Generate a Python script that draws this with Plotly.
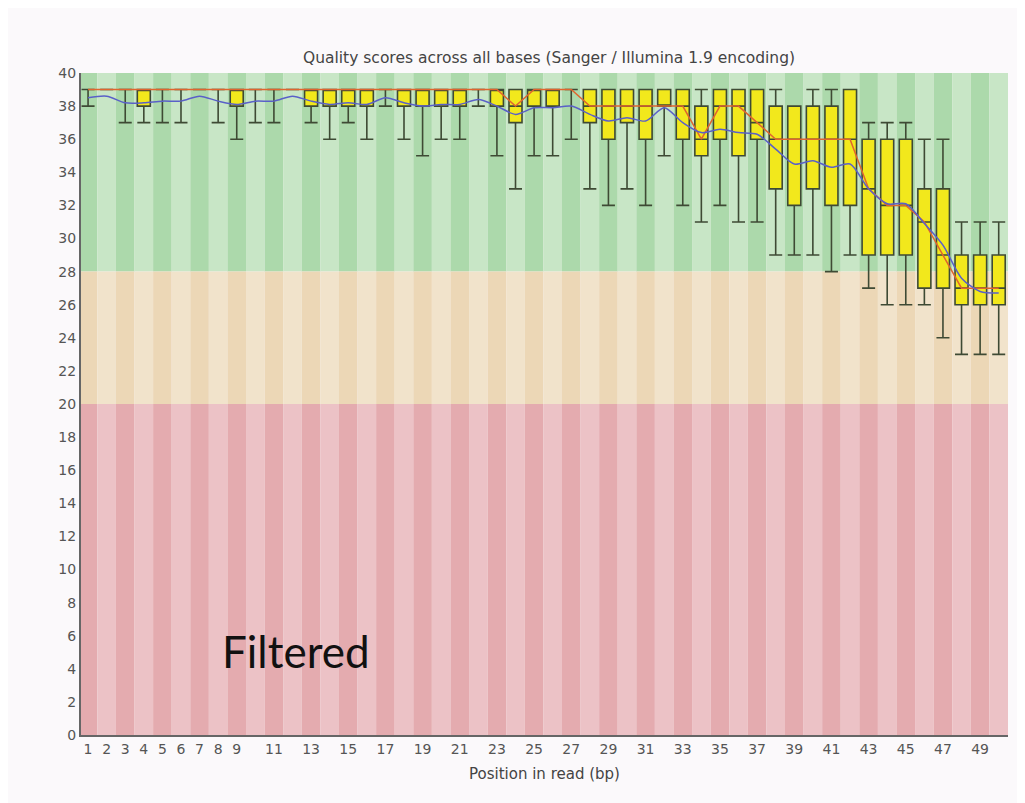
import plotly.graph_objects as go

positions = list(range(1, 51))
lower = [38, 39, 37, 37, 37, 37, 39, 37, 36, 37, 37, 39, 37, 36, 37, 36, 38, 36, 35, 36,
         36, 38, 35, 33, 35, 35, 36, 33, 32, 33, 32, 35, 32, 31, 32, 31, 31, 29, 29, 29,
         28, 29, 27, 26, 26, 26, 24, 23, 23, 23]
q1 = [39, 39, 39, 38, 39, 39, 39, 39, 38, 39, 39, 39, 38, 38, 38, 38, 39, 38, 38, 38,
      38, 39, 38, 37, 38, 38, 39, 37, 36, 37, 36, 38, 36, 35, 36, 35, 36, 33, 32, 33,
      32, 32, 29, 29, 29, 27, 27, 26, 26, 26]
median = [39, 39, 39, 39, 39, 39, 39, 39, 39, 39, 39, 39, 39, 39, 39, 39, 39, 39, 39, 39,
          39, 39, 39, 38, 39, 39, 39, 38, 38, 38, 38, 38, 38, 36, 38, 38, 37, 36, 36, 36,
          36, 36, 33, 32, 32, 31, 29, 27, 27, 27]
q3 = [39] * 33 + [38, 39, 39, 39, 38, 38, 38, 38, 39, 36, 36, 36, 33, 33, 29, 29, 29]
upper = [39] * 38 + [38, 39, 39, 39, 37, 37, 37, 36, 36, 31, 31, 31]
mean = [38.5, 38.6, 38.2, 38.2, 38.3, 38.3, 38.6, 38.3, 38.1, 38.3, 38.3, 38.6, 38.3, 38.1,
        38.2, 38.1, 38.5, 38.2, 38.0, 38.1, 38.1, 38.4, 38.0, 37.5, 37.9, 37.9, 38.0, 37.5,
        37.1, 37.3, 37.1, 37.9, 37.0, 36.4, 36.6, 36.4, 36.3, 35.4, 34.5, 34.7, 34.3, 34.5,
        33.0, 32.1, 32.1, 30.9, 29.6, 27.6, 26.8, 26.7]

tick_vals = [1, 2, 3, 4, 5, 6, 7, 8, 9] + list(range(11, 50, 2))
tick_text = [str(v) for v in tick_vals]

zones = [(28, 40, "#acd9ab", "#c8e6c6"),
         (20, 28, "#ecd7b6", "#f1e3cb"),
         (0, 20, "#e4abaf", "#ecc2c6")]

shapes = []
for p in positions:
    for y0, y1, dark, light in zones:
        shapes.append(dict(type="rect", xref="x", yref="y", x0=p - 0.5, x1=p + 0.5,
                           y0=y0, y1=y1, fillcolor=dark if p % 2 == 1 else light,
                           line=dict(width=0), layer="below"))

fig = go.Figure()
fig.add_trace(go.Box(x=positions, q1=q1, median=median, q3=q3,
                     lowerfence=lower, upperfence=upper,
                     width=0.7, whiskerwidth=1,
                     fillcolor="#f2e81c", line=dict(color="#3e4a34", width=1.6),
                     boxpoints=False, showlegend=False, hoverinfo="skip"))
fig.add_trace(go.Scatter(x=positions, y=median, mode="lines",
                         line=dict(color="#e0652e", width=1.5),
                         showlegend=False, hoverinfo="skip"))
fig.add_trace(go.Scatter(x=positions, y=mean, mode="lines",
                         line=dict(color="#5a60c8", width=1.5, shape="spline", smoothing=0.8),
                         showlegend=False, hoverinfo="skip"))

fig.add_annotation(x=12.18, y=5.1, xref="x", yref="y", text="Filtered", showarrow=False,
                   font=dict(family="Lato", size=44, color="#111111"))

fig.update_layout(
    width=1025, height=803,
    margin=dict(l=73, r=25, t=65, b=76),
    paper_bgcolor="#fbf9fb", plot_bgcolor="#fbf9fb",
    shapes=shapes,
    title=dict(text="Quality scores across all bases (Sanger / Illumina 1.9 encoding)",
               x=(549 - 8) / 1025, xanchor="center", y=1 - 50 / 803, yanchor="middle",
               font=dict(family="DejaVu Sans", size=15.5, color="#444444")),
    xaxis=dict(range=[0.62, 50.5], tickvals=tick_vals, ticktext=tick_text,
               showgrid=False, zeroline=False, showline=True, linecolor="#666666",
               linewidth=2, ticks="", tickfont=dict(family="DejaVu Sans", size=14, color="#555555"),
               title=dict(text="Position in read (bp)", standoff=13,
                          font=dict(family="DejaVu Sans", size=15, color="#444444"))),
    yaxis=dict(range=[0, 40], tickvals=list(range(0, 41, 2)), showgrid=False,
               zeroline=False, showline=True, linecolor="#666666", linewidth=2, ticks="",
               tickfont=dict(family="DejaVu Sans", size=14, color="#555555")),
    font=dict(family="DejaVu Sans"),
)

fig.write_html("out.html")
